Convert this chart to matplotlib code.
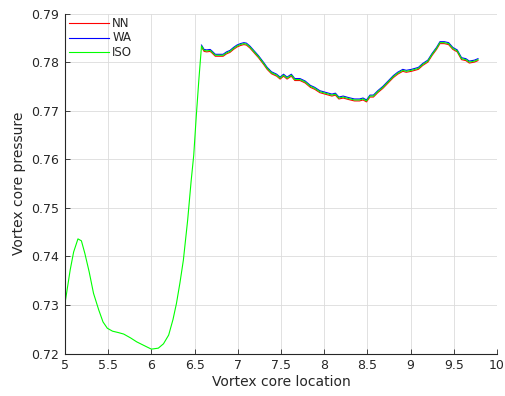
import matplotlib
matplotlib.use('Agg')
import matplotlib.pyplot as plt

# lower part, only the ISO curve is visible here
low_x = [5.0, 5.06, 5.10, 5.15, 5.19, 5.23, 5.28, 5.33, 5.39, 5.44, 5.49, 5.55,
         5.62, 5.68, 5.76, 5.83, 5.92, 6.00, 6.08, 6.14, 6.20, 6.25, 6.29, 6.33,
         6.37, 6.42, 6.46, 6.49, 6.52, 6.55]
low_iso = [0.7303, 0.7372, 0.7409, 0.7436, 0.7432, 0.7406, 0.7368, 0.7324, 0.7290,
           0.7265, 0.7252, 0.7246, 0.7243, 0.7240, 0.7232, 0.7224, 0.7216, 0.7209,
           0.7211, 0.7220, 0.7238, 0.7270, 0.7303, 0.7345, 0.7392, 0.7475, 0.7555,
           0.7608, 0.7690, 0.7765]

# upper part, all three curves
up_x = [6.58, 6.61, 6.64, 6.68, 6.70, 6.74, 6.78, 6.83, 6.87, 6.91, 6.95, 6.99,
        7.03, 7.07, 7.10, 7.14, 7.18, 7.24, 7.30, 7.34, 7.39, 7.45, 7.49, 7.53,
        7.57, 7.62, 7.66, 7.72, 7.78, 7.84, 7.89, 7.95, 8.03, 8.09, 8.13, 8.17,
        8.22, 8.28, 8.35, 8.41, 8.45, 8.49, 8.53, 8.57, 8.62, 8.68, 8.74, 8.80,
        8.85, 8.91, 8.95, 9.01, 9.09, 9.14, 9.20, 9.25, 9.30, 9.34, 9.39, 9.44,
        9.49, 9.54, 9.59, 9.64, 9.68, 9.74, 9.78]
up_iso = [0.7833, 0.7824, 0.7823, 0.7824, 0.7821, 0.7814, 0.7814, 0.7814, 0.7819,
          0.7822, 0.7828, 0.7833, 0.7836, 0.7838, 0.7837, 0.7831, 0.7823, 0.7811,
          0.7797, 0.7787, 0.7778, 0.7773, 0.7767, 0.7773, 0.7767, 0.7773, 0.7764,
          0.7764, 0.7759, 0.7750, 0.7746, 0.7739, 0.7735, 0.7732, 0.7734, 0.7726,
          0.7728, 0.7725, 0.7722, 0.7722, 0.7724, 0.7720, 0.7730, 0.7730, 0.7739,
          0.7748, 0.7759, 0.7770, 0.7777, 0.7783, 0.7781, 0.7783, 0.7787, 0.7795,
          0.7802, 0.7816, 0.7828, 0.7840, 0.7840, 0.7838, 0.7828, 0.7823, 0.7807,
          0.7805, 0.7800, 0.7802, 0.7805]
up_wa = [0.7835, 0.7826, 0.7825, 0.7826, 0.7823, 0.7816, 0.7816, 0.7816, 0.7821,
         0.7824, 0.7830, 0.7835, 0.7838, 0.7840, 0.7839, 0.7833, 0.7825, 0.7813,
         0.7799, 0.7789, 0.7780, 0.7775, 0.7769, 0.7775, 0.7769, 0.7775, 0.7766,
         0.7766, 0.7761, 0.7752, 0.7748, 0.7741, 0.7737, 0.7734, 0.7736, 0.7728,
         0.7730, 0.7727, 0.7724, 0.7724, 0.7726, 0.7722, 0.7732, 0.7732, 0.7741,
         0.7750, 0.7761, 0.7772, 0.7779, 0.7785, 0.7783, 0.7785, 0.7789, 0.7797,
         0.7804, 0.7818, 0.7830, 0.7842, 0.7842, 0.7840, 0.7830, 0.7825, 0.7809,
         0.7807, 0.7802, 0.7804, 0.7807]
up_nn = [0.7831, 0.7822, 0.7821, 0.7822, 0.7819, 0.7812, 0.7812, 0.7812, 0.7817,
         0.7820, 0.7826, 0.7831, 0.7834, 0.7836, 0.7835, 0.7829, 0.7821, 0.7809,
         0.7795, 0.7785, 0.7776, 0.7771, 0.7765, 0.7771, 0.7765, 0.7771, 0.7762,
         0.7762, 0.7757, 0.7748, 0.7744, 0.7737, 0.7733, 0.7730, 0.7732, 0.7724,
         0.7726, 0.7723, 0.7720, 0.7720, 0.7722, 0.7718, 0.7728, 0.7728, 0.7737,
         0.7746, 0.7757, 0.7768, 0.7775, 0.7781, 0.7779, 0.7781, 0.7785, 0.7793,
         0.7800, 0.7814, 0.7826, 0.7838, 0.7838, 0.7836, 0.7826, 0.7821, 0.7805,
         0.7803, 0.7798, 0.7800, 0.7803]

iso_x = low_x + up_x
iso_y = low_iso + up_iso

xticks = [5, 5.5, 6, 6.5, 7, 7.5, 8, 8.5, 9, 9.5, 10]
xlabels = ['5', '5.5', '6', '6.5', '7', '7.5', '8', '8.5', '9', '9.5', '10']
yticks = [0.72, 0.73, 0.74, 0.75, 0.76, 0.77, 0.78, 0.79]

plt.rcParams['font.family'] = ['DejaVu Sans']
txt = '#262626'

fig = plt.figure(figsize=(5.05, 3.96), dpi=100)
ax = fig.add_axes([0.1287, 0.1073, 0.8554, 0.8586])

ax.plot(up_x, up_nn, color='#ff0000', lw=0.8, label='NN')
ax.plot(up_x, up_wa, color='#0000ff', lw=0.8, label='WA')
ax.plot(iso_x, iso_y, color='#00ff00', lw=0.8, label='ISO')

ax.set_xlim(5, 10)
ax.set_ylim(0.72, 0.79)
ax.set_xticks(xticks)
ax.set_xticklabels(xlabels)
ax.set_yticks(yticks)
ax.set_yticklabels(['%.2f' % v for v in yticks])
ax.grid(True, color='#dcdcdc', lw=0.6)
ax.set_axisbelow(True)

for s in ['top', 'right']:
    ax.spines[s].set_visible(False)
for s in ['left', 'bottom']:
    ax.spines[s].set_color(txt)
    ax.spines[s].set_linewidth(0.8)
ax.tick_params(direction='in', length=3.5, width=0.6, colors=txt, labelsize=9, pad=4)

ax.set_xlabel('Vortex core location', fontsize=10, color=txt, labelpad=2)
ax.set_ylabel('Vortex core pressure', fontsize=10, color=txt, labelpad=4)

ax.legend(loc='upper left', frameon=False, fontsize=8.5, handlelength=3.4,
          handleheight=0.5, handletextpad=0.3, labelspacing=0.12,
          borderaxespad=0.15, borderpad=0.15, labelcolor=txt)

fig.savefig('out.png', dpi=100)
